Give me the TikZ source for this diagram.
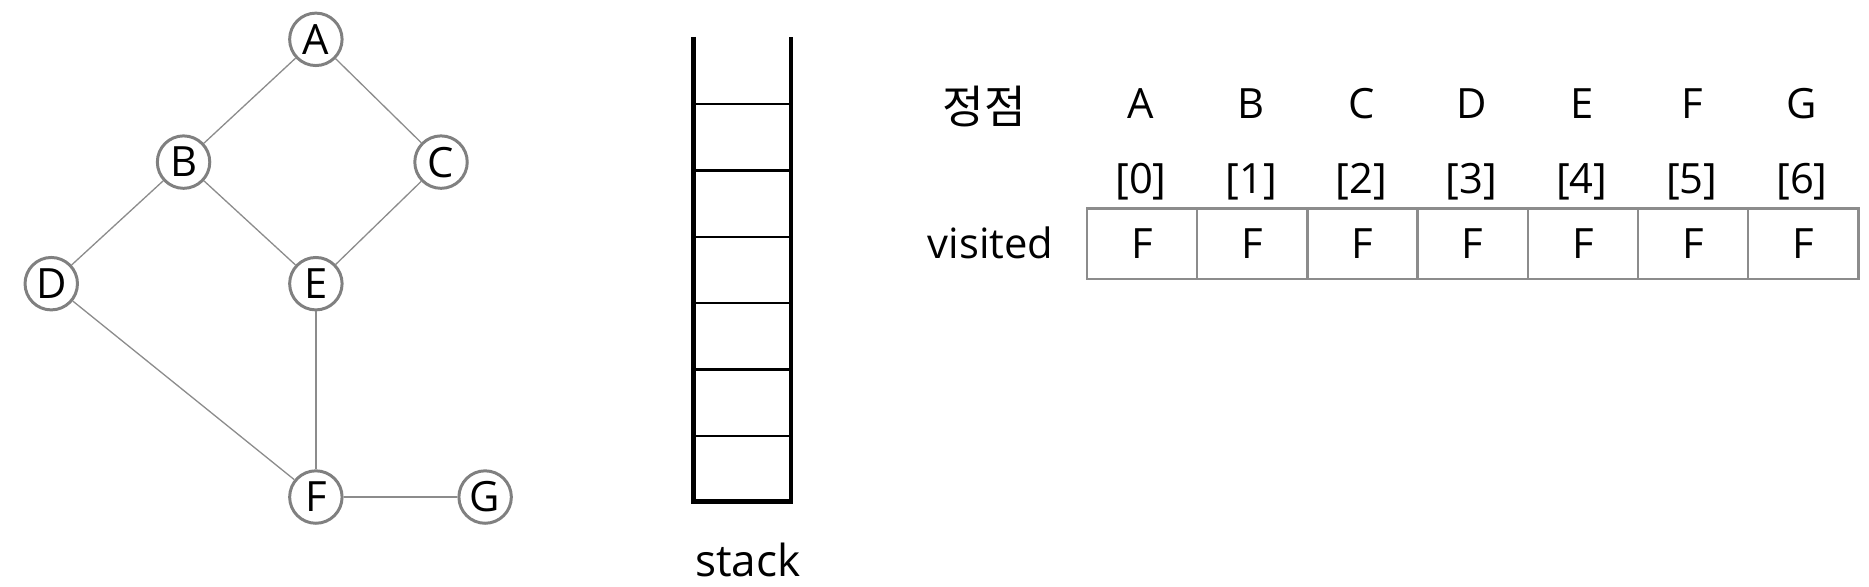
\documentclass[tikz,border=0pt]{standalone}
\usepackage{fontspec}
\setmainfont{Open Sans}
\newfontfamily\krfont{Noto Sans CJK KR}
\definecolor{vgray}{HTML}{808080}
\definecolor{egray}{HTML}{8C8C8C}
\tikzset{
  vertex/.style={circle, draw=vgray, line width=2.5pt, minimum size=44pt, inner sep=0pt, fill=white, font=\fontsize{35}{40}\selectfont},
  edge/.style={draw=egray, line width=1.1pt},
  lbl/.style={font=\fontsize{35}{40}\selectfont, inner sep=0pt},
  cell/.style={draw=egray, line width=2pt, minimum width=92.43pt, minimum height=59pt, inner sep=0pt, font=\fontsize{35}{40}\selectfont, anchor=north west},
  stackside/.style={line width=3.9pt, line join=miter},
  stackline/.style={line width=2pt},
}
\begin{document}
\begin{tikzpicture}[x=1pt,y=-1pt]
\useasboundingbox (0,0) rectangle (1568,492);
% graph
\node[vertex] (A) at (265,33) {A};
\node[vertex] (B) at (154,136) {B};
\node[vertex] (C) at (370,136) {C};
\node[vertex] (D) at (43,238) {D};
\node[vertex] (E) at (265,238) {E};
\node[vertex] (F) at (265,417) {F};
\node[vertex] (G) at (407,417) {G};
\draw[edge] (A) -- (B);
\draw[edge] (A) -- (C);
\draw[edge] (B) -- (D);
\draw[edge] (B) -- (E);
\draw[edge] (C) -- (E);
\draw[edge] (D) -- (F);
\draw[edge] (E) -- (F);
\draw[edge] (F) -- (G);
% stack
\coordinate (stl) at (582,31);
\coordinate (sbl) at (582,420.5);
\coordinate (sbr) at (663.5,420.5);
\coordinate (str) at (663.5,31);
\draw[stackside] (stl) -- (sbl) -- (sbr) -- (str);
\foreach \yy in {87,143,199,254,310,366}{
  \draw[stackline] (582,\yy) -- (663.5,\yy);
}
\node[lbl, anchor=base, font=\fontsize{37}{40}\selectfont] (stacklbl) at (627.5,484) {stack};
% table
\node[lbl, anchor=center, font=\krfont\fontsize{38}{42}\selectfont] (jeong) at (826,89) {정점};
\node[lbl, anchor=base] (vis) at (831,216.5) {visited};
\foreach \nm [count=\k from 0] in {A,B,C,D,E,F,G}{
  \pgfmathsetmacro{\xx}{911+92.43*\k}
  \pgfmathsetmacro{\xc}{911+92.43*(\k+0.5)}
  \node[cell] (c\k) at (\xx,174) {F};
  \node[lbl, anchor=base] (h\k) at (\xc,99) {\nm};
  \node[lbl, anchor=base] (i\k) at (\xc,162) {[\k]};
}
\end{tikzpicture}
\end{document}
